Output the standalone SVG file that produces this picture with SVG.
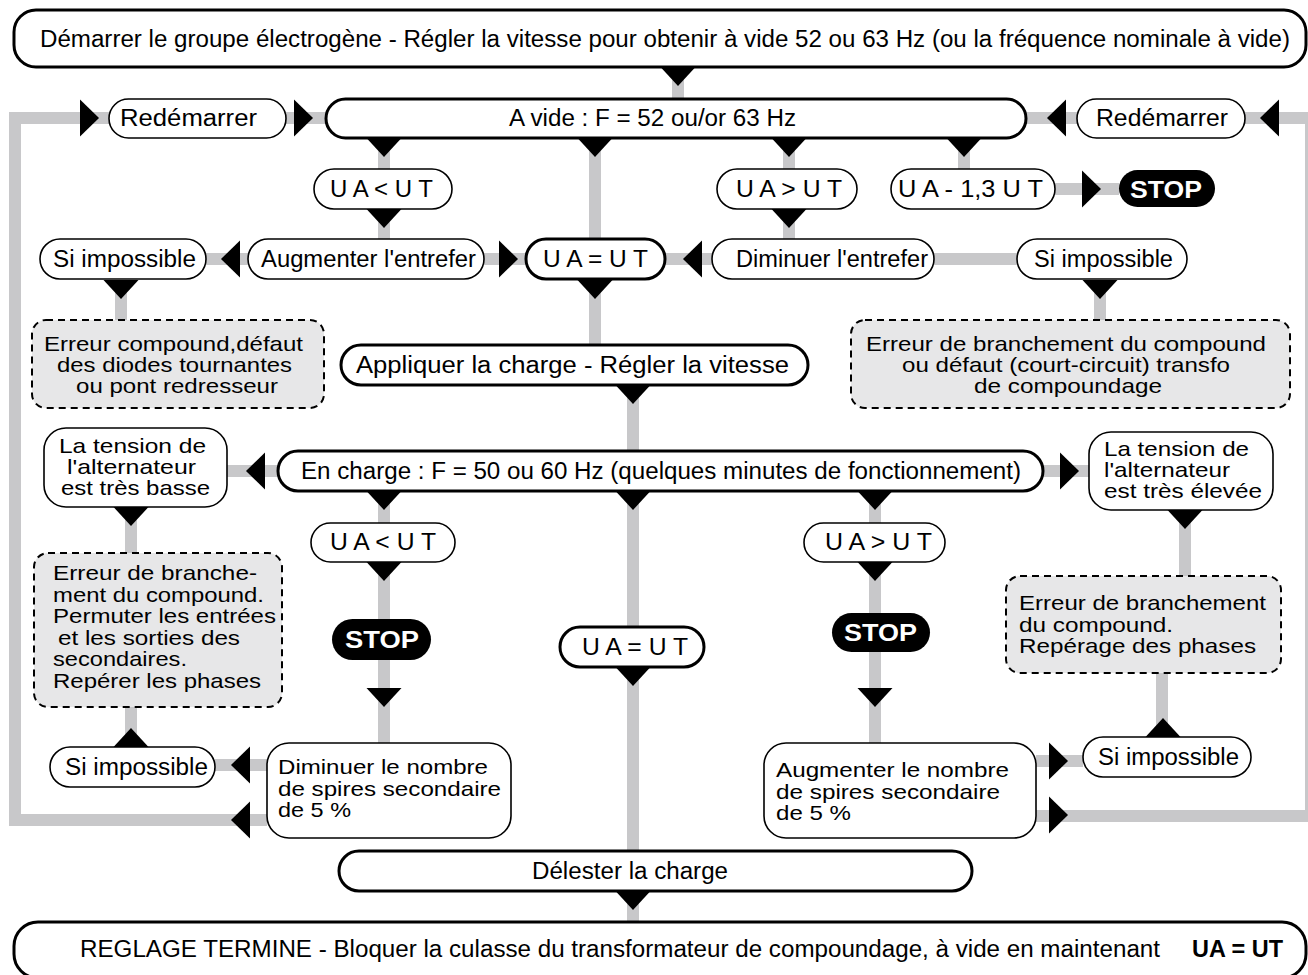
<svg xmlns="http://www.w3.org/2000/svg" xmlns:xlink="http://www.w3.org/1999/xlink" width="1308" height="975" viewBox="0 0 1308 975">
<style>
.t{font-family:"Liberation Sans",Arial,sans-serif;font-size:23px;fill:#000}
.m{font-size:21px}
.b{font-weight:bold}
.w{fill:#fff;font-weight:bold}
.box{fill:#fff;stroke:#000;stroke-width:1.6}
.thick{stroke-width:3}
.dash{fill:#e7e7e8;stroke:#000;stroke-width:2;stroke-dasharray:7 5}
.stop{fill:#000}
.conn{stroke:#c8c8ca;stroke-width:12;fill:none;stroke-linejoin:miter}
.arr{fill:#000}
</style>
<defs>
<polygon id="ad" points="-17.5,0 17.5,0 0,19"/>
<polygon id="au" points="-17.5,0 17.5,0 0,-19"/>
<polygon id="ar" points="0,-18.5 0,18.5 19,0"/>
<polygon id="al" points="0,-18.5 0,18.5 -19,0"/>
</defs>
<rect width="1308" height="975" fill="#fff"/>
<g id="connectors">
<path class="conn" d="M678,67V99 M267,820H15V118H109 M286,118H326 M1036,816H1311V118H1245 M1026,118H1077 M384,138V169 M595,138V239 M789,138V169 M964,138V169 M1055,189H1119 M384,209V239 M789,209V239 M206,259H248 M484,259H526 M665,259H712 M934,259H1017 M121,280V320 M1100,280V320 M595,280V345 M633,385V451 M227,471H278 M1043,471H1089 M384,491V523 M633,491V851 M875,491V523 M131,507V553 M1185,510V576 M384,562V743 M875,562V743 M131,707V747 M1162,673V737 M215,765H267 M1036,761H1083 M633,891V922"/>
<g class="arr">
<use xlink:href="#ad" x="678" y="67"/>
<use xlink:href="#ad" x="384" y="138"/>
<use xlink:href="#ad" x="595" y="138"/>
<use xlink:href="#ad" x="789" y="138"/>
<use xlink:href="#ad" x="964" y="138"/>
<use xlink:href="#ad" x="384" y="209"/>
<use xlink:href="#ad" x="789" y="209"/>
<use xlink:href="#ad" x="121" y="280"/>
<use xlink:href="#ad" x="1100" y="280"/>
<use xlink:href="#ad" x="595" y="280"/>
<use xlink:href="#ad" x="633" y="385"/>
<use xlink:href="#ad" x="384" y="491"/>
<use xlink:href="#ad" x="633" y="491"/>
<use xlink:href="#ad" x="875" y="491"/>
<use xlink:href="#ad" x="131" y="507"/>
<use xlink:href="#ad" x="1185" y="510"/>
<use xlink:href="#ad" x="384" y="562"/>
<use xlink:href="#ad" x="875" y="562"/>
<use xlink:href="#ad" x="633" y="667"/>
<use xlink:href="#ad" x="384" y="688"/>
<use xlink:href="#ad" x="875" y="688"/>
<use xlink:href="#ad" x="633" y="891"/>
<use xlink:href="#au" x="131" y="747"/>
<use xlink:href="#au" x="1163" y="737"/>
<use xlink:href="#ar" x="80" y="118"/>
<use xlink:href="#ar" x="294" y="118"/>
<use xlink:href="#ar" x="1082" y="189"/>
<use xlink:href="#ar" x="499" y="259"/>
<use xlink:href="#ar" x="1060" y="471"/>
<use xlink:href="#ar" x="1049" y="761"/>
<use xlink:href="#ar" x="1049" y="815"/>
<use xlink:href="#al" x="1066" y="118"/>
<use xlink:href="#al" x="1279" y="118"/>
<use xlink:href="#al" x="240" y="259"/>
<use xlink:href="#al" x="702" y="259"/>
<use xlink:href="#al" x="265" y="471"/>
<use xlink:href="#al" x="250" y="765"/>
<use xlink:href="#al" x="250" y="820"/>
</g>
</g>
<g id="n-start"><rect class="box thick" x="14" y="10" width="1292" height="57" rx="22"/><text class="t" x="40" y="47" textLength="1250" lengthAdjust="spacingAndGlyphs">Démarrer le groupe électrogène - Régler la vitesse pour obtenir à vide 52 ou 63 Hz (ou la fréquence nominale à vide)</text></g>
<g id="n-redem-l"><rect class="box" x="109" y="99" width="177" height="39" rx="19.5"/><text class="t" x="120" y="126" textLength="137" lengthAdjust="spacingAndGlyphs">Redémarrer</text></g>
<g id="n-avide"><rect class="box thick" x="326" y="99" width="700" height="39" rx="19.5"/><text class="t" x="509" y="126" textLength="287" lengthAdjust="spacingAndGlyphs">A vide : F = 52 ou/or 63 Hz</text></g>
<g id="n-redem-r"><rect class="box" x="1077" y="99" width="168" height="39" rx="19.5"/><text class="t" x="1096" y="126" textLength="132" lengthAdjust="spacingAndGlyphs">Redémarrer</text></g>
<g id="n-inf1"><rect class="box" x="314" y="169" width="138" height="40" rx="20"/><text class="t" x="330" y="197" textLength="103" lengthAdjust="spacingAndGlyphs">U A &lt; U T</text></g>
<g id="n-sup1"><rect class="box" x="717" y="169" width="140" height="40" rx="20"/><text class="t" x="736" y="197" textLength="106" lengthAdjust="spacingAndGlyphs">U A &gt; U T</text></g>
<g id="n-13"><rect class="box" x="891" y="169" width="164" height="40" rx="20"/><text class="t" x="898" y="197" textLength="145" lengthAdjust="spacingAndGlyphs">U A - 1,3 U T</text></g>
<g id="n-stop1"><rect class="stop" x="1119" y="170" width="96" height="37" rx="18.5"/><text class="t w" x="1130" y="198" textLength="72" lengthAdjust="spacingAndGlyphs">STOP</text></g>
<g id="n-siimp1"><rect class="box" x="40" y="239" width="166" height="40" rx="20"/><text class="t" x="53" y="267" textLength="143" lengthAdjust="spacingAndGlyphs">Si impossible</text></g>
<g id="n-augent"><rect class="box" x="248" y="239" width="236" height="40" rx="20"/><text class="t" x="261" y="267" textLength="215" lengthAdjust="spacingAndGlyphs">Augmenter l'entrefer</text></g>
<g id="n-eq1"><rect class="box thick" x="526" y="239" width="139" height="40" rx="20"/><text class="t" x="543" y="267" textLength="105" lengthAdjust="spacingAndGlyphs">U A = U T</text></g>
<g id="n-diment"><rect class="box" x="712" y="239" width="222" height="40" rx="20"/><text class="t" x="736" y="267" textLength="192" lengthAdjust="spacingAndGlyphs">Diminuer l'entrefer</text></g>
<g id="n-siimp2"><rect class="box" x="1017" y="239" width="170" height="40" rx="20"/><text class="t" x="1034" y="267" textLength="139" lengthAdjust="spacingAndGlyphs">Si impossible</text></g>
<g id="n-err1"><rect class="dash" x="32" y="320" width="292" height="88" rx="14"/><text class="t m" x="44" y="351" textLength="259" lengthAdjust="spacingAndGlyphs">Erreur compound,défaut</text><text class="t m" x="57" y="372" textLength="235" lengthAdjust="spacingAndGlyphs">des diodes tournantes</text><text class="t m" x="76" y="393" textLength="202" lengthAdjust="spacingAndGlyphs">ou pont redresseur</text></g>
<g id="n-err2"><rect class="dash" x="851" y="320" width="439" height="88" rx="14"/><text class="t m" x="866" y="351" textLength="400" lengthAdjust="spacingAndGlyphs">Erreur de branchement du compound</text><text class="t m" x="902" y="372" textLength="328" lengthAdjust="spacingAndGlyphs">ou défaut (court-circuit) transfo</text><text class="t m" x="974" y="393" textLength="188" lengthAdjust="spacingAndGlyphs">de compoundage</text></g>
<g id="n-appl"><rect class="box thick" x="341" y="345" width="467" height="40" rx="20"/><text class="t" x="356" y="373" textLength="433" lengthAdjust="spacingAndGlyphs">Appliquer la charge - Régler la vitesse</text></g>
<g id="n-encharge"><rect class="box thick" x="278" y="451" width="765" height="40" rx="20"/><text class="t" x="301" y="479" textLength="720" lengthAdjust="spacingAndGlyphs">En charge : F = 50 ou 60 Hz (quelques minutes de fonctionnement)</text></g>
<g id="n-basse"><rect class="box" x="44" y="428" width="183" height="79" rx="22"/><text class="t m" x="59" y="453" textLength="147" lengthAdjust="spacingAndGlyphs">La tension de</text><text class="t m" x="67" y="474" textLength="129" lengthAdjust="spacingAndGlyphs">l'alternateur</text><text class="t m" x="61" y="495" textLength="149" lengthAdjust="spacingAndGlyphs">est très basse</text></g>
<g id="n-elevee"><rect class="box" x="1089" y="432" width="184" height="78" rx="22"/><text class="t m" x="1104" y="456" textLength="145" lengthAdjust="spacingAndGlyphs">La tension de</text><text class="t m" x="1104" y="477" textLength="126" lengthAdjust="spacingAndGlyphs">l'alternateur</text><text class="t m" x="1104" y="498" textLength="158" lengthAdjust="spacingAndGlyphs">est très élevée</text></g>
<g id="n-inf2"><rect class="box" x="311" y="523" width="144" height="39" rx="19.5"/><text class="t" x="330" y="550" textLength="106" lengthAdjust="spacingAndGlyphs">U A &lt; U T</text></g>
<g id="n-sup2"><rect class="box" x="804" y="523" width="141" height="39" rx="19.5"/><text class="t" x="825" y="550" textLength="107" lengthAdjust="spacingAndGlyphs">U A &gt; U T</text></g>
<g id="n-stop2"><rect class="stop" x="332" y="619" width="99" height="41" rx="20.5"/><text class="t w" x="345" y="648" textLength="74" lengthAdjust="spacingAndGlyphs">STOP</text></g>
<g id="n-stop3"><rect class="stop" x="832" y="613" width="98" height="39" rx="19.5"/><text class="t w" x="844" y="641" textLength="73" lengthAdjust="spacingAndGlyphs">STOP</text></g>
<g id="n-eq2"><rect class="box thick" x="560" y="627" width="144" height="40" rx="20"/><text class="t" x="582" y="655" textLength="106" lengthAdjust="spacingAndGlyphs">U A = U T</text></g>
<g id="n-err3"><rect class="dash" x="34" y="553" width="248" height="154" rx="14"/><text class="t m" x="53" y="580" textLength="204" lengthAdjust="spacingAndGlyphs">Erreur de branche-</text><text class="t m" x="53" y="602" textLength="211" lengthAdjust="spacingAndGlyphs">ment du compound.</text><text class="t m" x="53" y="623" textLength="223" lengthAdjust="spacingAndGlyphs">Permuter les entrées</text><text class="t m" x="58" y="645" textLength="182" lengthAdjust="spacingAndGlyphs">et les sorties des</text><text class="t m" x="53" y="666" textLength="134" lengthAdjust="spacingAndGlyphs">secondaires.</text><text class="t m" x="53" y="688" textLength="208" lengthAdjust="spacingAndGlyphs">Repérer les phases</text></g>
<g id="n-err4"><rect class="dash" x="1006" y="576" width="275" height="97" rx="14"/><text class="t m" x="1019" y="610" textLength="247" lengthAdjust="spacingAndGlyphs">Erreur de branchement</text><text class="t m" x="1019" y="632" textLength="154" lengthAdjust="spacingAndGlyphs">du compound.</text><text class="t m" x="1019" y="653" textLength="237" lengthAdjust="spacingAndGlyphs">Repérage des phases</text></g>
<g id="n-siimp3"><rect class="box" x="50" y="747" width="165" height="40" rx="20"/><text class="t" x="65" y="775" textLength="143" lengthAdjust="spacingAndGlyphs">Si impossible</text></g>
<g id="n-dimsp"><rect class="box" x="267" y="743" width="244" height="95" rx="22"/><text class="t m" x="278" y="774" textLength="210" lengthAdjust="spacingAndGlyphs">Diminuer le nombre</text><text class="t m" x="278" y="796" textLength="223" lengthAdjust="spacingAndGlyphs">de spires secondaire</text><text class="t m" x="278" y="817" textLength="73" lengthAdjust="spacingAndGlyphs">de 5 %</text></g>
<g id="n-augsp"><rect class="box" x="764" y="743" width="272" height="95" rx="22"/><text class="t m" x="776" y="777" textLength="233" lengthAdjust="spacingAndGlyphs">Augmenter le nombre</text><text class="t m" x="776" y="799" textLength="224" lengthAdjust="spacingAndGlyphs">de spires secondaire</text><text class="t m" x="776" y="820" textLength="75" lengthAdjust="spacingAndGlyphs">de 5 %</text></g>
<g id="n-siimp4"><rect class="box" x="1083" y="737" width="168" height="40" rx="20"/><text class="t" x="1098" y="765" textLength="141" lengthAdjust="spacingAndGlyphs">Si impossible</text></g>
<g id="n-delester"><rect class="box thick" x="339" y="851" width="633" height="40" rx="20"/><text class="t" x="532" y="879" textLength="196" lengthAdjust="spacingAndGlyphs">Délester la charge</text></g>
<g id="n-fin"><rect class="box thick" x="14" y="922" width="1292" height="56" rx="24"/><text class="t" x="80" y="957" textLength="1080" lengthAdjust="spacingAndGlyphs">REGLAGE TERMINE - Bloquer la culasse du transformateur de compoundage, à vide en maintenant</text><text class="t b" x="1192" y="957" textLength="91" lengthAdjust="spacingAndGlyphs">UA = UT</text></g>
</svg>
